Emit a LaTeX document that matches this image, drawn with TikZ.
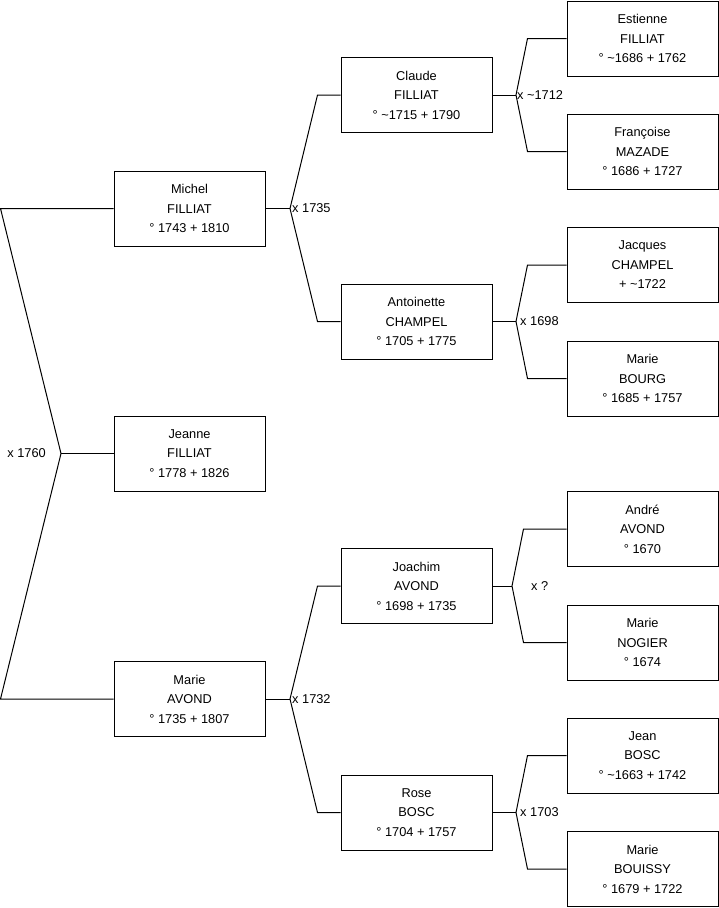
\documentclass[tikz,border=0pt]{standalone}
\usepackage{fontspec}
\setmainfont{Liberation Sans}
\usepackage{tikz}
\usetikzlibrary{positioning}

\begin{document}
\begin{tikzpicture}[x=1pt, y=-1pt,
    person/.style={draw, line width=1pt, minimum width=151pt, minimum height=75pt,
        inner sep=0pt, align=center, font=\fontsize{12.8}{19.5}\selectfont},
    wedding/.style={font=\fontsize{12.8}{15}\selectfont, inner sep=0pt}]
    \useasboundingbox (0,0) rectangle (719,908);
    % child
    \node[person] (jeanne) at (189.5,453.5) {Jeanne\\FILLIAT\\° 1778 + 1826};
    % parents
    \node[person] (michel) at (189.5,208.5) {Michel\\FILLIAT\\° 1743 + 1810};
    \node[person] (marieA) at (189.5,699) {Marie\\AVOND\\° 1735 + 1807};
    % grandparents
    \node[person] (claude) at (416.5,95) {Claude\\FILLIAT\\° \textasciitilde1715 + 1790};
    \node[person] (antoinette) at (416.5,321.5) {Antoinette\\CHAMPEL\\° 1705 + 1775};
    \node[person] (joachim) at (416.5,586) {Joachim\\AVOND\\° 1698 + 1735};
    \node[person] (rose) at (416.5,812.5) {Rose\\BOSC\\° 1704 + 1757};
    % great-grandparents
    \node[person] (estienne) at (642.5,38.5) {Estienne\\FILLIAT\\° \textasciitilde1686 + 1762};
    \node[person] (francoise) at (642.5,151.5) {Françoise\\MAZADE\\° 1686 + 1727};
    \node[person] (jacques) at (642.5,265) {Jacques\\CHAMPEL\\+ \textasciitilde1722};
    \node[person] (marieBg) at (642.5,378.5) {Marie\\BOURG\\° 1685 + 1757};
    \node[person] (andre) at (642.5,529) {André\\AVOND\\° 1670};
    \node[person] (marieN) at (642.5,642.5) {Marie\\NOGIER\\° 1674};
    \node[person] (jean) at (642.5,755.5) {Jean\\BOSC\\° \textasciitilde1663 + 1742};
    \node[person] (marieBs) at (642.5,869) {Marie\\BOUISSY\\° 1679 + 1722};

    % wedding points
    \coordinate (w0) at (61,453.5);
    \coordinate (w1) at (290,208.5);
    \coordinate (w2) at (290,699);
    \coordinate (w3) at (516,95);
    \coordinate (w4) at (516,321.5);
    \coordinate (w5) at (512,586);
    \coordinate (w6) at (516,812.5);

    \foreach \kid/\wed/\dad/\mum/\dx in {jeanne/w0/michel/marieA/113,
        michel/w1/claude/antoinette/23, marieA/w2/joachim/rose/23,
        claude/w3/estienne/francoise/39, antoinette/w4/jacques/marieBg/39,
        joachim/w5/andre/marieN/43, rose/w6/jean/marieBs/39} {
        \draw[line width=1pt] (\kid) -- (\wed);
        \draw[line width=1pt] (\dad.west) -- ++(-\dx,0) -- (\wed)
            -- ([xshift=-\dx pt]\mum.west) -- (\mum.west);
    }

    \node[wedding, anchor=east] (x0) at ([xshift=-15pt]w0) {x 1760};
    \foreach \wed/\lx/\txt in {w1/2/x 1735, w2/2/x 1732, w3/1/x \textasciitilde1712,
        w4/4/x 1698, w5/19/x ?, w6/4/x 1703} {
        \node[wedding, anchor=west] (l\wed) at ([xshift=\lx pt]\wed) {\txt};
    }
\end{tikzpicture}
\end{document}
